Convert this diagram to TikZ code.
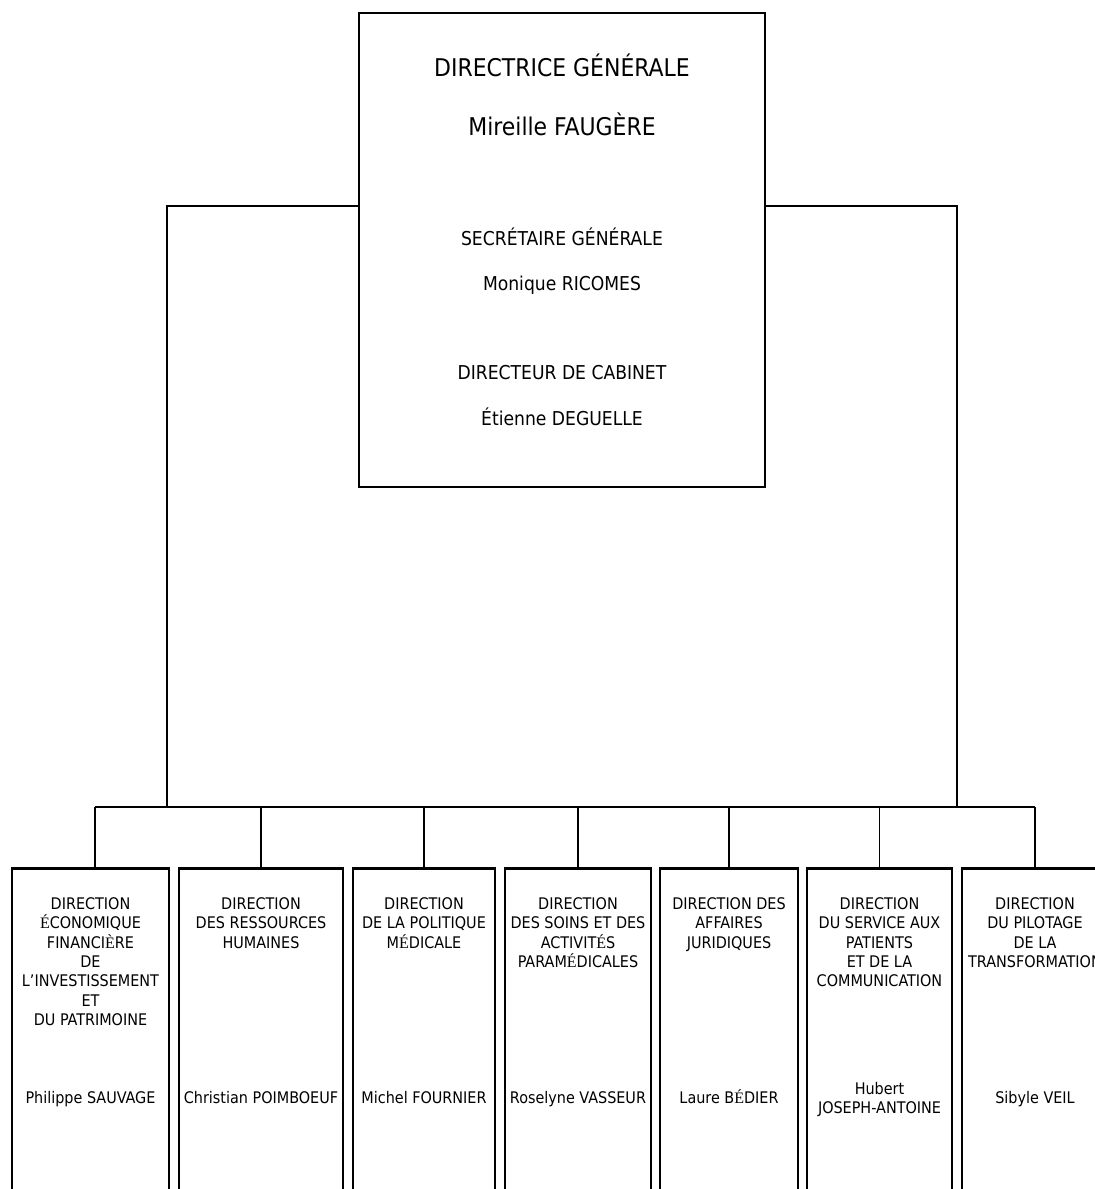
\documentclass[tikz,border=0pt]{standalone}
\usepackage{fontspec}
\setmainfont{DejaVu Sans Condensed}
\newfontfamily\accfont{Liberation Serif}
\newcommand{\serifacc}[1]{{\accfont #1}}
\usetikzlibrary{positioning}
\tikzstyle{unit} = [rectangle, draw=black, line width=2.6pt,
                    minimum height=360pt, inner sep=0pt]
\tikzstyle{head} = [rectangle, draw=black, line width=2.4pt,
                    minimum width=406pt, minimum height=474pt, inner sep=0pt]
\tikzstyle{bigtxt} = [inner sep=0pt, anchor=north, text height=17.8pt, text depth=0pt,
                      font=\fontsize{24.4}{29}\selectfont]
\tikzstyle{midtxt} = [inner sep=0pt, anchor=north, text height=13.9pt, text depth=0pt,
                      font=\fontsize{19.1}{23}\selectfont]
\tikzstyle{boxtxt} = [inner sep=0pt, anchor=north, align=center,
                      font=\fontsize{16}{19.3}\selectfont]
\tikzstyle{nametxt} = [inner sep=0pt, anchor=north, text height=11.7pt, text depth=0pt,
                       font=\fontsize{16}{19.3}\selectfont]
\tikzstyle{link} = [line width=1.8pt]

\begin{document}
\begin{tikzpicture}[x=1pt, y=-1pt]
        \clip (0,0) rectangle (1095,1189);

        %Top box
        \node (DG) [head] at (562,250) {};
        \node (DGt) [bigtxt, below=46.5pt of DG.north] {DIRECTRICE GÉNÉRALE};
        \node (DGn) [bigtxt, below=105.5pt of DG.north] {Mireille FAUGÈRE};
        \node (SGt) [midtxt, below=219.5pt of DG.north] {SECRÉTAIRE GÉNÉRALE};
        \node (SGn) [midtxt, below=264.5pt of DG.north] {Monique RICOMES};
        \node (DCt) [midtxt, below=353.5pt of DG.north] {DIRECTEUR DE CABINET};
        \node (DCn) [midtxt, below=399.5pt of DG.north] {Étienne DEGUELLE};

        %Directions
        \node (D1) [unit, minimum width=157pt, anchor=north] at (90.5,867) {};
        \node (D2) [unit, minimum width=164pt, right=7.4pt of D1] {};
        \node (D3) [unit, minimum width=142pt, right=7.4pt of D2] {};
        \node (D4) [unit, minimum width=146pt, right=7.4pt of D3] {};
        \node (D5) [unit, minimum width=138pt, right=6.4pt of D4] {};
        \node (D6) [unit, minimum width=145pt, right=6.4pt of D5] {};
        \node (D7) [unit, minimum width=146pt, right=7.4pt of D6] {};

        %Titles
        \node (T1) [boxtxt, below=30.5pt of D1.north] {DIRECTION\\\serifacc{É}CONOMIQUE\\FINANCI\serifacc{È}RE\\DE\\L’INVESTISSEMENT\\ET\\DU PATRIMOINE};
        \node (T2) [boxtxt, below=30.5pt of D2.north] {DIRECTION\\DES RESSOURCES\\HUMAINES};
        \node (T3) [boxtxt, below=30.5pt of D3.north] {DIRECTION\\DE LA POLITIQUE\\M\serifacc{É}DICALE};
        \node (T4) [boxtxt, below=30.5pt of D4.north] {DIRECTION\\DES SOINS ET DES\\ACTIVIT\serifacc{É}S\\PARAM\serifacc{É}DICALES};
        \node (T5) [boxtxt, below=30.5pt of D5.north] {DIRECTION DES\\AFFAIRES\\JURIDIQUES};
        \node (T6) [boxtxt, below=30.5pt of D6.north] {DIRECTION\\DU SERVICE AUX\\PATIENTS\\ET DE LA\\COMMUNICATION};
        \node (T7) [boxtxt, below=30.5pt of D7.north] {DIRECTION\\DU PILOTAGE\\DE LA\\TRANSFORMATION};

        %Names
        \node (N1) [nametxt, below=224.5pt of D1.north] {Philippe SAUVAGE};
        \node (N2) [nametxt, below=224.5pt of D2.north] {Christian POIMBOEUF};
        \node (N3) [nametxt, below=224.5pt of D3.north] {Michel FOURNIER};
        \node (N4) [nametxt, below=224.5pt of D4.north] {Roselyne VASSEUR};
        \node (N5) [nametxt, below=224.5pt of D5.north] {Laure B\serifacc{É}DIER};
        \node (N6) [boxtxt, below=215pt of D6.north] {Hubert\\JOSEPH-ANTOINE};
        \node (N7) [nametxt, below=224.5pt of D7.north] {Sibyle VEIL};

        %Lines from top box to bus
        \coordinate (hubL) at (167,807);
        \coordinate (hubR) at (957,807);
        \draw [link] ([yshift=-194pt]DG.north west) -| (hubL);
        \draw [link] ([yshift=-194pt]DG.north east) -| (hubR);

        %Bus
        \draw [link] ([xshift=4.5pt]D1.north |- hubL) -- (D7.north |- hubR);

        %Drops to directions
        \draw [link] ([xshift=4.5pt]D1.north) -- ([xshift=4.5pt]D1.north |- hubL);
        \foreach \d in {D2,D3,D4,D5,D6,D7}
            \draw [link] (\d.north) -- (\d.north |- hubL);

\end{tikzpicture}
\end{document}
